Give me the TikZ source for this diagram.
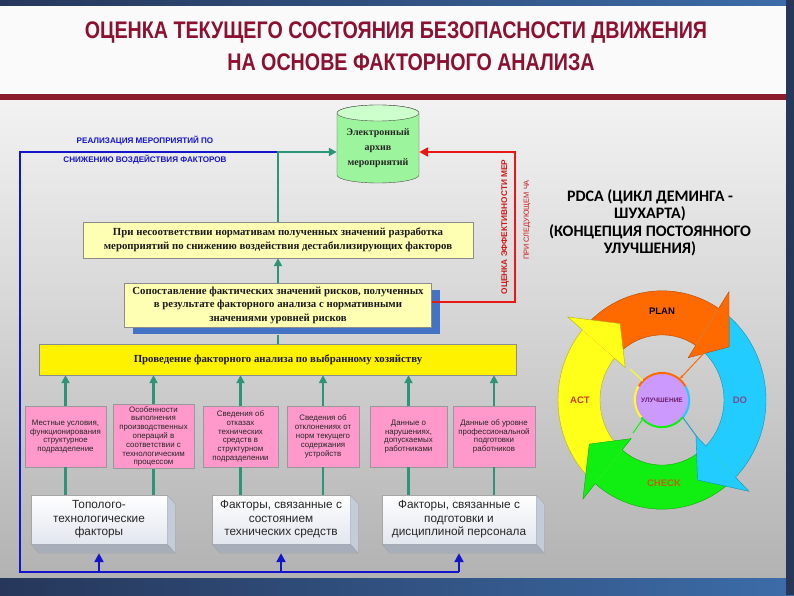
\documentclass[tikz,border=0pt]{standalone}
\usepackage{fontspec}
\setmainfont{Liberation Serif}
\setsansfont{Liberation Sans}
\newfontfamily\titlefont[FakeStretch=0.82]{Liberation Sans}
\newfontfamily\pdcafont{Carlito}
\usetikzlibrary{arrows.meta,shadows}

\definecolor{titlered}{HTML}{8C1030}
\definecolor{rulered}{HTML}{8A1A2C}
\definecolor{navy}{HTML}{26375A}
\definecolor{navylight}{HTML}{3C6CA8}
\definecolor{lineblue}{HTML}{1414C8}
\definecolor{lineteal}{HTML}{2E9478}
\definecolor{linered}{HTML}{E81818}
\definecolor{paleyellow}{HTML}{FFFFB3}
\definecolor{pinkbox}{HTML}{FF99CC}
\definecolor{shadowblue}{HTML}{4472C4}
\definecolor{groupgrey}{HTML}{E2E6EE}
\definecolor{groupside}{HTML}{C4CCDA}
\definecolor{cylgreen}{HTML}{9CF59C}
\definecolor{cyltop}{HTML}{CCFFCC}
\definecolor{planorange}{HTML}{FF6A00}
\definecolor{doblue}{HTML}{22CCFF}
\definecolor{checkgreen}{HTML}{11EE11}
\definecolor{actyellow}{HTML}{FFFF1A}
\definecolor{lilac}{HTML}{CC99FF}

% ring segment of the PDCA wheel: colour, start angle, end angle
\newcommand\pdcabody[3]{%
  \fill[#1] (#2:104) arc[start angle=#2,end angle=#3,radius=104]
    -- (#3:62) arc[start angle=#3,end angle=#2,radius=62] -- cycle;
  \draw[#1!70!black,line width=0.4pt] (#2:104) arc[start angle=#2,end angle=#3,radius=104];
  \draw[#1!70!black,line width=0.4pt] (#2:62) arc[start angle=#2,end angle=#3,radius=62];}
% arrow head: colour, base angle, tip angle
\newcommand\pdcahead[3]{%
  \fill[#1] (#2:104) -- (#2:123) -- (#3:84) -- (#2:48) -- (#2:62) -- cycle;
  \draw[#1!70!black,line width=0.4pt] (#2:104) -- (#2:123) -- (#3:84) -- (#2:48) -- (#2:62);}

\begin{document}
\begin{tikzpicture}[x=1pt,y=1pt,
    tealline/.style={draw=lineteal,line width=2.4pt},
    tealarrow/.style={tealline,-{Triangle[length=8pt,width=8pt]}},
    blueline/.style={draw=lineblue,line width=2.8pt},
    bluearrow/.style={blueline,-{Triangle[length=9pt,width=9pt]}},
    redarrow/.style={draw=linered,line width=2.4pt,-{Triangle[length=9pt,width=9pt]}},
    stage/.style={draw=black!45,fill=paleyellow,align=center,inner sep=2pt,
      text=black!90,font=\bfseries\fontsize{10.8}{13.5}\selectfont},
    factor/.style={draw=black!40,fill=pinkbox,align=center,minimum height=61pt,
      inner sep=1pt,text=black!85,font=\sffamily\fontsize{7.9}{8.8}\selectfont},
    group/.style={draw=black!35,top color=white,bottom color=groupgrey,align=center,
      minimum height=49pt,text=black!85,font=\sffamily\fontsize{11.8}{13.5}\selectfont},
    note/.style={inner sep=0pt,font=\sffamily\bfseries\fontsize{8.1}{9}\selectfont},
    phase/.style={font=\sffamily\bfseries\fontsize{9.5}{11}\selectfont}]

  \useasboundingbox (0,0) rectangle (794,595);
  \fill[white!98!black] (0,0) rectangle (794,595);
  \shade[top color=black!5,bottom color=black!30] (0,17) rectangle (794,495);
  \fill[rulered] (0,495) rectangle (794,501);
  \shade[left color=navy,right color=navylight] (0,589) rectangle (794,595);
  \shade[left color=navy,right color=navylight] (0,0) rectangle (794,17);
  \fill[navy] (786,0) rectangle (794,595);

  \node[text=titlered,font=\titlefont\bfseries\fontsize{24}{28}\selectfont] (title1) at (396,562)
    {ОЦЕНКА ТЕКУЩЕГО СОСТОЯНИЯ БЕЗОПАСНОСТИ ДВИЖЕНИЯ};
  \node[text=titlered,font=\titlefont\bfseries\fontsize{24}{28}\selectfont] (title2) at (411,533)
    {НА ОСНОВЕ ФАКТОРНОГО АНАЛИЗА};

  % archive
  \draw[draw=black!70,fill=cylgreen] (337,482) -- (337,420)
    arc[start angle=180,end angle=360,x radius=41,y radius=8] -- (419,482)
    arc[start angle=0,end angle=180,x radius=41,y radius=8] -- cycle;
  \draw[draw=black!70,fill=cyltop] (378,482) ellipse[x radius=41,y radius=8];
  \node[align=center,minimum width=82pt,minimum height=70pt,text=black!85,
    font=\bfseries\fontsize{10}{15}\selectfont] (arch) at (378,447)
    {Электронный\\архив\\мероприятий};

  \node[stage,minimum width=390pt,minimum height=36pt] (measures) at (278,355)
    {При несоответствии нормативам полученных значений разработка\\
     мероприятий по снижению воздействия дестабилизирующих факторов};
  \node[stage,minimum width=307pt,minimum height=44pt,
    drop shadow={shadow xshift=8pt,shadow yshift=-7pt,fill=shadowblue,opacity=1}] (compare) at (278,290)
    {Сопоставление фактических значений рисков, полученных\\
     в результате факторного анализа с нормативными\\
     значениями уровней рисков};
  \node[stage,fill=yellow,minimum width=477pt,minimum height=31pt] (analysis) at (278,235.5)
    {Проведение факторного анализа по выбранному хозяйству};

  \node[factor,minimum width=81pt] (f1) at (65.5,158.5)
    {Местные условия,\\функционирования\\структурное\\подразделение};
  \node[factor,minimum width=81pt,minimum height=64pt] (f2) at (153.5,158.5)
    {Особенности\\выполнения\\производственных\\операций в\\соответствии с\\технологическим\\процессом};
  \node[factor,minimum width=75pt] (f3) at (240.5,158.5)
    {Сведения об\\отказах\\технических\\средств в\\структурном\\подразделении};
  \node[factor,minimum width=72pt] (f4) at (323,158.5)
    {Сведения об\\отклонениях от\\норм текущего\\содержания\\устройств};
  \node[factor,minimum width=77pt] (f5) at (408.5,158.5)
    {Данные о\\нарушениях,\\допускаемых\\работниками};
  \node[factor,minimum width=82pt] (f6) at (494,158.5)
    {Данные об уровне\\профессиональной\\подготовки\\работников};

  \node[group,minimum width=136pt] (topo) at (99,75.5)
    {Тополого-\\технологические\\факторы};
  \node[group,minimum width=138pt] (tech) at (281,75.5)
    {Факторы, связанные с\\состоянием\\технических средств};
  \node[group,minimum width=154pt] (staff) at (459,75.5)
    {Факторы, связанные с\\подготовки и\\дисциплиной персонала};
  \foreach \g in {topo,tech,staff} {
    \draw[draw=black!35,fill=groupside] (\g.north east) -- ++(8,-9) -- ([shift={(8,-9)}]\g.south east) -- (\g.south east) -- cycle;
    \draw[draw=black!35,fill=groupside!85!black] (\g.south west) -- ++(8,-9) -- ([shift={(8,-9)}]\g.south east) -- (\g.south east) -- cycle;
  }

  \coordinate (junction) at (278,443);
  \coordinate (corner) at (20,23);
  \draw[blueline] (junction) -- (corner |- junction) -- (corner) -- (staff.south |- corner);
  \foreach \g in {topo,tech,staff}
    \draw[bluearrow] (\g.south |- corner) -- ([yshift=-9pt]\g.south);
  \draw[tealarrow] (measures.north) -- (junction) -- ([yshift=-4pt]arch.west);
  \draw[tealarrow] (compare.north) -- (measures.south);
  \draw[tealline] ([yshift=-8pt]compare.south) -- (analysis.north);
  \draw[redarrow] ([yshift=3pt]compare.east) -- ++(83,0) |- ([yshift=-4pt]arch.east);
  \foreach \f/\g in {f1/topo,f2/topo,f3/tech,f4/tech,f5/staff,f6/staff} {
    \draw[tealarrow] (\f.north) -- (\f.north |- analysis.south);
    \draw[tealline] (\f.south) -- (\f.south |- \g.north);
  }

  \node[note,text=lineblue] (real1) at (145,454) {РЕАЛИЗАЦИЯ МЕРОПРИЯТИЙ ПО};
  \node[note,text=lineblue] (real2) at (145,435) {СНИЖЕНИЮ ВОЗДЕЙСТВИЯ ФАКТОРОВ};
  \node[note,text=linered!90!black,font=\sffamily\bfseries\fontsize{8.3}{9}\selectfont,rotate=90] (eff1) at (505,368)
    {ОЦЕНКА ЭФФЕКТИВНОСТИ МЕР};
  \node[note,text=linered!90!black,font=\sffamily\fontsize{7.4}{9}\selectfont,rotate=90] (eff2) at (527,375)
    {ПРИ СЛЕДУЮЩЕМ ЧА};

  \node[align=center,font=\pdcafont\bfseries\fontsize{16}{17.5}\selectfont] (pdca) at (650,372)
    {PDCA (ЦИКЛ ДЕМИНГА -\\ШУХАРТА)\\(КОНЦЕПЦИЯ ПОСТОЯННОГО\\УЛУЧШЕНИЯ)};

  \begin{scope}[shift={(662,195)},yscale=1.05]
    \pdcabody{actyellow}{230}{140}
    \pdcabody{planorange}{140}{57}
    \pdcabody{doblue}{57}{-45}
    \pdcabody{checkgreen}{-45}{-130}
    \pdcahead{actyellow}{140}{120}
    \pdcahead{planorange}{57}{37}
    \pdcahead{doblue}{-45}{-65}
    \pdcahead{checkgreen}{-130}{-150}
  \end{scope}

  \node[circle,fill=lilac,minimum size=54pt,inner sep=0pt,text={rgb,255:red,110;green,30;blue,100},
    font=\sffamily\bfseries\fontsize{6.5}{7}\selectfont] (improve) at (662,195) {УЛУЧШЕНИЕ};
  \draw[planorange,line width=2pt] (improve.30) arc[start angle=30,end angle=150,radius=27];
  \draw[doblue,line width=2pt] (improve.-40) arc[start angle=-40,end angle=30,radius=27];
  \draw[checkgreen,line width=2pt] (improve.-140) arc[start angle=-140,end angle=-40,radius=27];
  \draw[actyellow,line width=2pt] (improve.150) arc[start angle=150,end angle=220,radius=27];
  \draw[planorange,line width=1pt,-{Latex[length=4pt]}] (705,243) -- (improve.50);
  \draw[doblue!80!black,line width=1pt] (improve.-40) -- (697,158);
  \draw[checkgreen,line width=1pt] (improve.-135) -- (633,162);
  \draw[actyellow,line width=1pt] (improve.135) -- (630,226);

  \node[phase,text=black] (plan) at (662,284) {PLAN};
  \node[phase,text={rgb,255:red,122;green,78;blue,142}] (do) at (740,195) {DO};
  \node[phase,text={rgb,255:red,192;green,96;blue,16}] (check) at (664,112) {CHECK};
  \node[phase,text={rgb,255:red,208;green,58;blue,16}] (act) at (580,195) {ACT};
\end{tikzpicture}
\end{document}
